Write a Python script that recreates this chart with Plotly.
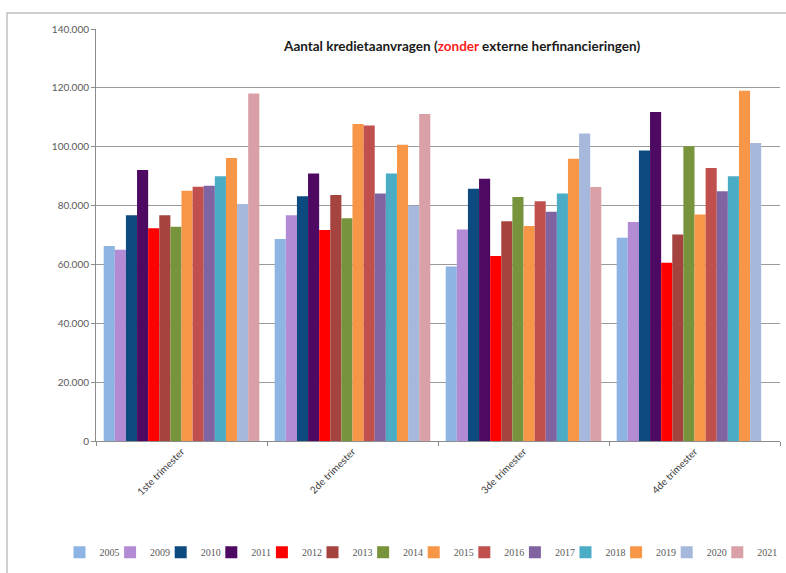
import plotly.graph_objects as go

quarters = ["1ste trimester", "2de trimester", "3de trimester", "4de trimester"]
years = ["2005", "2009", "2010", "2011", "2012", "2013", "2014",
         "2015", "2016", "2017", "2018", "2019", "2020", "2021"]

v2005 = [66300, 68600, 59300, 69100]
v2009 = [65000, 76700, 71900, 74400]
v2010 = [76700, 83200, 85700, 98700]
v2011 = [92100, 90900, 89100, 111800]
v2012 = [72300, 71700, 62900, 60600]
v2013 = [76700, 83600, 74700, 70200]
v2014 = [72800, 75700, 82900, 100200]
v2015 = [85000, 107700, 73100, 77000]
v2016 = [86400, 107200, 81500, 92800]
v2017 = [86700, 84100, 77900, 84900]
v2018 = [90000, 90900, 84100, 90000]
v2019 = [96200, 100700, 95900, 119000]
v2020 = [80500, 79900, 104500, 101300]
v2021 = [118100, 111100, 86300, None]

series = [v2005, v2009, v2010, v2011, v2012, v2013, v2014,
          v2015, v2016, v2017, v2018, v2019, v2020, v2021]

colors = ["#8db4e2", "#b38bd5", "#0d4a80", "#4e0a63", "#ff0000", "#a5443f",
          "#77933c", "#f79646", "#c0504d", "#8064a2", "#4bacc6", "#f79646",
          "#a6b9dc", "#d9a0a8"]

y_ticks = [0, 20000, 40000, 60000, 80000, 100000, 120000, 140000]
y_ticktext = ["0", "20.000", "40.000", "60.000", "80.000", "100.000", "120.000", "140.000"]

W, H = 786, 573
ML, MR, MT, MB = 96, 6, 29, 132
plot_w = W - ML - MR

legend_font = dict(size=10, color="#595959", family="Liberation Serif, serif")

fig = go.Figure()
legend_layouts = {}
for i, (name, vals, col) in enumerate(zip(years, series, colors)):
    key = "legend" if i == 0 else f"legend{i + 1}"
    fig.add_trace(go.Bar(name=name, x=quarters, y=vals,
                         marker=dict(color=col, line=dict(width=0)),
                         legend=key))
    sym_px = 79 + i * 50.6
    legend_layouts[key] = dict(orientation="h", x=(sym_px - 19.5 - ML) / plot_w,
                               xanchor="left", y=-0.235, yanchor="top",
                               font=legend_font, itemwidth=30,
                               bgcolor="rgba(0,0,0,0)")

fig.update_layout(
    width=W, height=H,
    margin=dict(l=ML, r=MR, t=MT, b=MB, autoexpand=False),
    paper_bgcolor="white", plot_bgcolor="white",
    barmode="group", bargap=0.09, bargroupgap=0,
    font=dict(family="Lato, Liberation Sans, sans-serif", size=10, color="#595959"),
    showlegend=True,
    annotations=[dict(
        text="<b>Aantal kredietaanvragen (<span style='color:#ff2020'>zonder</span> externe herfinancieringen)</b>",
        x=0.535, y=0.9587, xref="paper", yref="paper", xanchor="center", yanchor="middle",
        showarrow=False, font=dict(size=13.5, color="#1a1a1a", family="Lato, Liberation Sans, sans-serif"))],
    shapes=[dict(type="rect", xref="paper", yref="paper",
                 x0=-0.1301, x1=1.2, y0=-0.5, y1=1.0388,
                 line=dict(color="#c0c0c0", width=1.5), fillcolor="rgba(0,0,0,0)", layer="below")],
    **legend_layouts,
)

fig.update_yaxes(range=[0, 140000], tickvals=y_ticks, ticktext=y_ticktext,
                 showgrid=True, gridcolor="#9a9a9a", gridwidth=1,
                 showline=True, linecolor="#8c8c8c", linewidth=1,
                 ticks="outside", ticklen=4, tickcolor="#8c8c8c",
                 tickfont=dict(size=10, color="#595959"), zeroline=False)
fig.update_xaxes(showline=True, linecolor="#8c8c8c", linewidth=1,
                 ticks="outside", tickson="boundaries", ticklen=4, tickcolor="#8c8c8c",
                 tickangle=-45, tickfont=dict(size=10, color="#404040"))

fig.write_html("out.html")
